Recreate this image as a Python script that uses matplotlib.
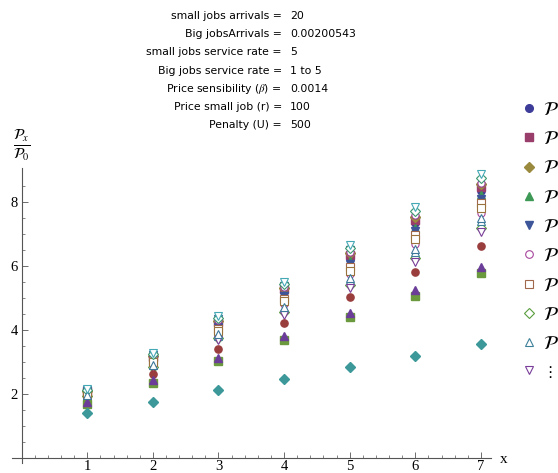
import matplotlib
matplotlib.use("Agg")
import matplotlib.pyplot as plt
from matplotlib.lines import Line2D

plt.rcParams['mathtext.fontset'] = 'stix'

# parametres affiches en haut
param_names = ['small jobs arrivals', 'Big jobsArrivals', 'small jobs service rate',
               'Big jobs service rate', r'Price sensibility ($\beta$)',
               'Price small job (r)', 'Penalty (U)']
param_values = ['20', '0.00200543', '5', '1 to 5', '0.0014', '100', '500']

x = [1, 2, 3, 4, 5, 6, 7]

# series (Px / P0)
p1 = [2.08, 3.13, 4.21, 5.20, 6.26, 7.34, 8.35]
p2 = [2.09, 3.16, 4.25, 5.27, 6.34, 7.44, 8.45]
p3 = [2.10, 3.19, 4.29, 5.32, 6.41, 7.53, 8.55]
p4 = [2.06, 3.10, 4.15, 5.12, 6.15, 7.20, 8.20]
p5 = [2.05, 3.07, 4.10, 5.06, 6.07, 7.10, 8.10]
p6 = [1.99, 2.96, 3.92, 4.82, 5.75, 6.69, 7.65]
p7 = [2.03, 3.03, 4.04, 4.98, 5.96, 6.96, 7.95]
p8 = [1.94, 2.84, 3.74, 4.56, 5.41, 6.26, 7.20]
p9 = [1.96, 2.89, 3.82, 4.67, 5.56, 6.45, 7.40]
p10 = [1.92, 2.80, 3.68, 4.48, 5.30, 6.12, 7.06]
p11 = [1.84, 2.62, 3.41, 4.22, 5.03, 5.81, 6.62]
p12 = [1.70, 2.34, 3.03, 3.69, 4.41, 5.06, 5.78]
p13 = [1.40, 1.76, 2.12, 2.47, 2.83, 3.19, 3.56]
p14 = [1.74, 2.44, 3.12, 3.81, 4.53, 5.26, 5.97]
p15 = [2.11, 3.21, 4.33, 5.38, 6.49, 7.63, 8.65]
p16 = [2.11, 3.20, 4.31, 5.35, 6.45, 7.58, 8.60]
p17 = [2.01, 2.99, 3.98, 4.90, 5.85, 6.83, 7.80]
p18 = [2.12, 3.24, 4.37, 5.43, 6.56, 7.72, 8.75]
p19 = [1.97, 2.91, 3.86, 4.72, 5.62, 6.53, 7.50]
p20 = [2.14, 3.27, 4.42, 5.50, 6.65, 7.84, 8.87]
series = [p1, p2, p3, p4, p5, p6, p7, p8, p9, p10,
          p11, p12, p13, p14, p15, p16, p17, p18, p19, p20]

colors = ['#3d3d99', '#993d6b', '#998a3d', '#3d9955', '#3d5599',
          '#a8459c', '#a0684a', '#5a9d3d', '#3d8099', '#7a3d99',
          '#993d3d', '#6b993d', '#3d9999', '#6b3d99', '#3d6b99',
          '#993d99', '#99723d', '#3d9972', '#3d7799', '#45a8b5']
markers = ['o', 's', 'D', '^', 'v', 'o', 's', 'D', '^', 'v']
filled = [True] * 5 + [False] * 5

# libelles de legende (seul le P est visible dans l'original)
legend_labels = [r'$\mathcal{P}$'] * 9 + ['\u22ee']

fig = plt.figure(figsize=(5.58, 4.73), dpi=100)
ax = fig.add_axes([0.0224, 0.0209, 0.857, 0.624])

for i, s in enumerate(series):
    m = markers[i % 10]
    ms = 5.2 if m in 'os' else 5.5
    if m == 'D':
        ms = 4.6
    if filled[i % 10]:
        ax.plot(x, s, ls='none', marker=m, ms=ms, color=colors[i], mec=colors[i])
    else:
        ax.plot(x, s, ls='none', marker=m, ms=ms, mfc='white', mec=colors[i], mew=0.8)

ax.set_xlim(-0.14, 7.15)
ax.set_ylim(-0.16, 9.06)
for side in ['top', 'right']:
    ax.spines[side].set_visible(False)
ax.spines['left'].set_position(('data', 0))
ax.spines['bottom'].set_position(('data', 0))
ax.spines['left'].set_color('#555555')
ax.spines['bottom'].set_color('#555555')
ax.patch.set_visible(False)

ax.set_xticks(x)
ax.set_xticks([v / 5 for v in range(1, 36)], minor=True)
ax.set_yticks([2, 4, 6, 8])
ax.set_yticks([v / 2 for v in range(1, 18)], minor=True)
ax.tick_params(which='major', direction='in', length=4, width=0.6, color='#555555',
               labelsize=10.5)
ax.tick_params(axis='x', which='major', pad=1.5)
ax.tick_params(axis='y', which='major', pad=3)
ax.tick_params(which='minor', direction='in', length=2, width=0.5, color='#555555')
for lab in ax.get_xticklabels() + ax.get_yticklabels():
    lab.set_family('Liberation Serif')

fig.text(500 / 558, 1 - 459 / 473, 'x', family='Liberation Serif', fontsize=11,
         va='center', ha='left')
fig.text(22 / 558, 1 - 146 / 473, r'$\frac{\mathcal{P}_x}{\mathcal{P}_0}$',
         fontsize=15, ha='center', va='center')

# entete des parametres
for k, (name, val) in enumerate(zip(param_names, param_values)):
    yy = 1 - (16 + 18.2 * k) / 473
    fig.text(282 / 558, yy, name + ' =', fontsize=7.8, ha='right', va='center')
    fig.text(290 / 558, yy, val, fontsize=7.8, ha='left', va='center')

# legende
handles = []
for i in range(10):
    if filled[i]:
        h = Line2D([], [], ls='none', marker=markers[i], ms=5.5, color=colors[i])
    else:
        h = Line2D([], [], ls='none', marker=markers[i], ms=5.5, mfc='white',
                   mec=colors[i], mew=0.8)
    handles.append(h)
leg = fig.legend(handles, legend_labels, loc='upper left',
                 bbox_to_anchor=(512.5 / 558, 1 - 92 / 473),
                 frameon=False, fontsize=14, handlelength=0.9, handletextpad=0.25,
                 labelspacing=0.53, borderaxespad=0)
leg.get_texts()[-1].set_fontsize(11)

fig.savefig('out.png', dpi=100)
